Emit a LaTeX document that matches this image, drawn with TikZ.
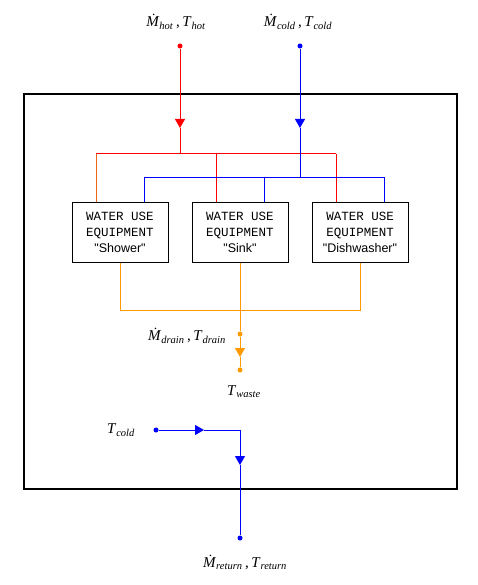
\documentclass[tikz,border=0pt]{standalone}
\usepackage{fontspec}
\setmainfont{Liberation Serif}
\newfontfamily\cournew{Liberation Mono}
\newfontfamily\arialf{Liberation Sans}
\usetikzlibrary{arrows.meta}
\newcommand{\flowlbl}[2]{\textit{\.{M}}\textsubscript{\textit{#1}}\,,\,\textit{T}\textsubscript{\textit{#2}}}
\definecolor{hotc}{RGB}{255,0,0}
\definecolor{coldc}{RGB}{0,0,255}
\definecolor{drainc}{RGB}{255,153,0}
\definecolor{mixc}{RGB}{240,100,20}
\tikzset{
  pipe/.style={line width=1pt},
  flow/.style={line width=1pt,-{Triangle[width=10pt,length=9pt]}},
  dot/.style={circle,fill,inner sep=0pt,minimum size=5pt},
  equip/.style={draw,line width=1pt,minimum width=96pt,minimum height=60pt,align=center,inner sep=0pt,font=\fontsize{12.5}{16}\selectfont},
  lbl/.style={font=\fontsize{15}{17}\selectfont,inner sep=0pt}
}
\begin{document}
\begin{tikzpicture}[x=1pt,y=-1pt]
\useasboundingbox (0,0) rectangle (478,585);
% outer boundary
\draw[line width=2pt] (24,94) rectangle (457,489);

% labels top
\node[lbl] (hotlbl) at (176,22) {\flowlbl{hot}{hot}};
\node[lbl] (coldlbl) at (298,22) {\flowlbl{cold}{cold}};

% inlet dots
\node[dot,hotc] (hotin) at (180,46) {};
\node[dot,coldc] (coldin) at (300,46) {};
\coordinate (hotarr) at (180,128);
\coordinate (coldarr) at (300,128);
\coordinate (hotj) at (180,154);
\coordinate (coldj) at (300,178);

% equipment
\node[equip] (e1) at (120,232) {{\cournew WATER USE}\\{\cournew EQUIPMENT}\\{\arialf "Shower"}};
\node[equip] (e2) at (240,232) {{\cournew WATER USE}\\{\cournew EQUIPMENT}\\{\arialf "Sink"}};
\node[equip] (e3) at (360,232) {{\cournew WATER USE}\\{\cournew EQUIPMENT}\\{\arialf "Dishwasher"}};

% hot supply
\draw[hotc,flow] (hotin) -- (hotarr);
\draw[hotc,pipe] (hotarr) -- (hotj);
\draw[hotc,pipe] (96,154) -- (336,154);
\draw[mixc,pipe] (96,154) -- (96,202);
\draw[hotc,pipe] (216,154) -- (216,202);
\draw[hotc,pipe] (336,154) -- (336,202);

% cold supply
\draw[coldc,flow] (coldin) -- (coldarr);
\draw[coldc,pipe] (coldarr) -- (coldj);
\draw[coldc,pipe] (144,202) |- (384,178) -- (384,202);
\draw[coldc,pipe] (264,178) -- (264,202);

% drain
\coordinate (dj) at (240,310);
\draw[drainc,pipe] (e1.south) |- (dj);
\draw[drainc,pipe] (e3.south) |- (dj);
\draw[drainc,pipe] (e2.south) -- (dj);
\node[dot,drainc] (drainout) at (240,334) {};
\coordinate (drainarr) at (240,357);
\node[dot,drainc] (waste) at (240,370) {};
\draw[drainc,pipe] (dj) -- (drainout);
\draw[drainc,flow] (drainout) -- (drainarr);
\draw[drainc,pipe] (drainarr) -- (waste);
\node[lbl] (drainlbl) at (187,336) {\flowlbl{drain}{drain}};
\node[lbl] (wastelbl) at (244,392) {\textit{T}\textsubscript{\textit{waste}}};

% return
\node[lbl] (tcoldlbl) at (121,430) {\textit{T}\textsubscript{\textit{cold}}};
\node[dot,coldc] (tcin) at (156,430) {};
\coordinate (rarr) at (204,430);
\coordinate (rcorner) at (240,430);
\coordinate (darr) at (240,465);
\node[dot,coldc] (retout) at (240,538) {};
\draw[coldc,flow] (tcin) -- (rarr);
\draw[coldc,pipe] (rarr) -- (rcorner);
\draw[coldc,flow] (rcorner) -- (darr);
\draw[coldc,pipe] (darr) -- (retout);
\node[lbl] (retlbl) at (245,562) {\flowlbl{return}{return}};
\end{tikzpicture}
\end{document}
